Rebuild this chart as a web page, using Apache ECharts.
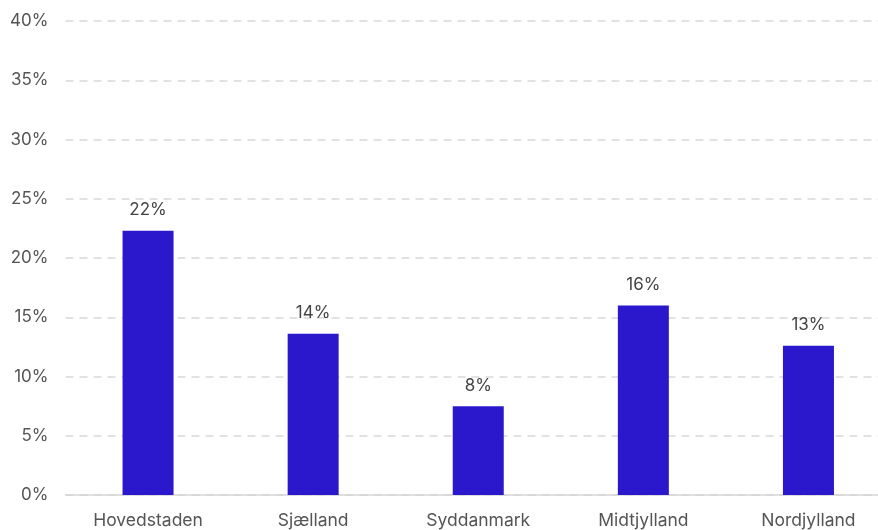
<!DOCTYPE html>
<html><head><meta charset="utf-8">
<script src="https://cdn.jsdelivr.net/npm/echarts@6/dist/echarts.min.js"></script>
<style>html,body{margin:0;padding:0;background:#fff;overflow:hidden;width:878px;height:530px}#c{width:891px;height:530px}</style>
</head><body><div id="c"></div>
<script>
var categories = ["Hovedstaden", "Sjælland", "Syddanmark", "Midtjylland", "Nordjylland"];
var values = [22.3, 13.6, 7.5, 16.0, 12.6];
var chart = echarts.init(document.getElementById('c'));
chart.setOption({
  animation: false,
  textStyle: {fontFamily: 'Inter'},
  grid: {left: 65.5, right: 0, top: 21, bottom: 34},
  xAxis: {
    type: 'category', data: categories,
    axisLine: {lineStyle: {color: '#d6d6d6', width: 1.5}},
    axisTick: {show: false},
    axisLabel: {color: '#555', fontSize: 17.5, margin: 17, fontFamily: 'Inter'}
  },
  yAxis: {
    type: 'value', min: 0, max: 40, interval: 5,
    axisLabel: {formatter: '{value}%', color: '#555', fontSize: 17, margin: 17, fontFamily: 'Inter'},
    splitLine: {lineStyle: {color: '#d9d9d9', type: [8, 6], width: 1.5}},
    axisLine: {show: false}, axisTick: {show: false}
  },
  series: [{
    type: 'bar', data: values, barWidth: 51,
    itemStyle: {color: '#2B18CC'},
    label: {show: true, position: 'top', distance: 12, color: '#444', fontSize: 17, fontFamily: 'Inter',
      formatter: function(p){ return Math.round(p.value) + '%'; }}
  }]
});
</script></body></html>
